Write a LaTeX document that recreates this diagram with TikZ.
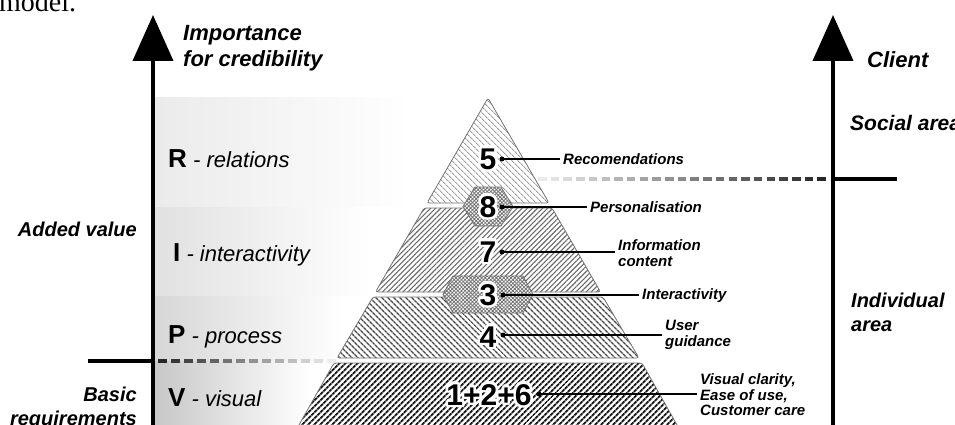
\documentclass[tikz,border=0pt]{standalone}
\usepackage{fontspec}
\setmainfont{Liberation Sans}
\newfontfamily\serifmodel{Liberation Serif}
\usetikzlibrary{arrows.meta,patterns.meta,calc}
\newcommand\halonum[3]{%
  \foreach \a in {0,22.5,...,337.5}{\node[numtxt,text=white] at ([shift={(\a:2.6pt)}]#2) {#3};}
  \node[numtxt] (#1) at (#2) {#3};}
\begin{document}
\begin{tikzpicture}[x=1pt,y=-1pt,
  axis/.style={line width=4pt,-{Triangle[length=46pt,width=40pt]}},
  hline/.style={line width=3.5pt},
  ttl/.style={font=\fontsize{20}{24}\selectfont\bfseries\itshape,inner sep=0pt},
  bigttl/.style={font=\fontsize{22}{26}\selectfont\bfseries\itshape,inner sep=0pt},
  lay/.style={font=\fontsize{22}{24}\selectfont\itshape,inner sep=0pt,anchor=west},
  layer/.style={draw=black!55,line width=0.8pt,rounded corners=2.5pt,preaction={fill=white}},
  hex/.style={draw=black!55,line width=0.8pt,preaction={fill=white},pattern={Hatch[angle=45,distance=2.6pt,line width=0.8pt]},pattern color=black!55},
  numtxt/.style={font=\fontsize{30}{30}\selectfont\bfseries,inner sep=0pt},
  lab/.style={font=\fontsize{15}{15.5}\selectfont\bfseries\itshape,inner sep=3pt,anchor=west,align=left},
  conn/.style={line width=1.3pt},
  dot/.style={circle,fill=black,inner sep=0pt,minimum size=5pt}
]
\useasboundingbox (0,0) rectangle (955,425);
% cropped caption text
\node[anchor=base west,inner sep=0pt,font=\serifmodel\fontsize{28}{28}\selectfont] (model) at (-1,12) {model.};
% background bands
\shade[left color=black!8,right color=white] (153,98) rectangle (410,206);
\shade[left color=black!12,right color=white] (153,207) rectangle (370,295);
\shade[left color=black!16,right color=white] (153,296) rectangle (345,360);
\shade[left color=black!22,right color=white] (153,361) rectangle (310,425);
% fading dashed lines
\coordinate (Ldash) at (158,361);
\foreach \i in {0,...,13}{\pgfmathtruncatemacro\c{85-\i*6}\draw[hline,black!\c] ($(Ldash)+(\i*13,0)$) -- ++(8.5,0);}
\coordinate (Rdash) at (538,179);
\foreach \i in {0,...,22}{\pgfmathtruncatemacro\c{8+\i*3.5}\draw[hline,black!\c] ($(Rdash)+(\i*12.7,0)$) -- ++(8.5,0);}
% pyramid layers
\path[layer,pattern={Lines[angle=-45,distance=4pt,line width=0.9pt]},pattern color=black!38]
  (488,98) -- (549,203) -- (427,203) -- cycle;
\path[layer,pattern={Lines[angle=45,distance=3.6pt,line width=1.1pt]},pattern color=black!58]
  (424,208) -- (552,208) -- (600.5,292) -- (375.5,292) -- cycle;
\path[layer,pattern={Lines[angle=-45,distance=4pt,line width=1.4pt]},pattern color=black!72]
  (373,297) -- (603,297) -- (639,358) -- (337,358) -- cycle;
\path[layer,pattern={Lines[angle=45,distance=4pt,line width=2pt]},pattern color=black!90]
  (334,363) -- (642,363) -- (681,432) -- (295,432) -- cycle;
% hexagons
\path[hex] (475,187) -- (501,187) -- (513,206.5) -- (501,226) -- (475,226) -- (463,206.5) -- cycle;
\path[hex] (453,276) -- (523,276) -- (533,294.5) -- (523,313) -- (453,313) -- (443,294.5) -- cycle;
% connectors and labels
\node[lab] (lab5) at (560,159) {Recomendations};
\node[lab] (lab8) at (587,207) {Personalisation};
\node[lab] (lab7) at (615,253) {Information\\content};
\node[lab] (lab3) at (639,296) {Interactivity};
\node[lab] (lab4) at (662,335) {User\\guidance};
\node[lab] (lab126) at (697,395) {Visual clarity,\\Ease of use,\\Customer care};
\node[dot] (d5) at (502,159) {};
\node[dot] (d8) at (502,207) {};
\node[dot] (d7) at (502,252) {};
\node[dot] (d3) at (503,295) {};
\node[dot] (d4) at (503,335) {};
\node[dot] (d126) at (539,394) {};
\draw[conn] (d5.center) -- (lab5.west);
\draw[conn] (d8.center) -- (lab8.west);
\draw[conn] (d7.center) -- (d7.center -| lab7.west);
\draw[conn] (d3.center) -- (d3.center -| lab3.west);
\draw[conn] (d4.center) -- (d4.center -| lab4.west);
\draw[conn] (d126.center) -- (d126.center -| lab126.west);
% numbers with halo
\halonum{n5}{488,159}{5}
\halonum{n8}{488,207}{8}
\halonum{n7}{488,252}{7}
\halonum{n3}{488,295}{3}
\halonum{n4}{488,337}{4}
\halonum{n126}{489,395}{1+2+6}
% left axis
\coordinate (Lbot) at (153,427);
\coordinate (Ltop) at (153,15);
\draw[axis] (Lbot) -- (Ltop);
\coordinate (Lh1) at (88,361);
\coordinate (Lh2) at (155,361);
\draw[hline] (Lh1) -- (Lh2);
% right axis
\coordinate (Rbot) at (833,427);
\coordinate (Rtop) at (833,15);
\draw[axis] (Rbot) -- (Rtop);
\coordinate (Rh1) at (831,179);
\coordinate (Rh2) at (897,179);
\draw[hline] (Rh1) -- (Rh2);
% titles
\node[bigttl,anchor=west,align=left] (imp) at (183,48) {Importance\\for credibility};
\node[bigttl,anchor=west] (cli) at (867,60) {Client};
\node[bigttl,anchor=west,font=\fontsize{21}{24}\selectfont\bfseries\itshape] (soc) at (850,123) {Social area};
\node[ttl,anchor=west,align=left] (ind) at (851,312) {Individual\\area};
\node[ttl,anchor=east] (add) at (137,229) {Added value};
\node[ttl,anchor=east,align=right] (bas) at (137,408) {Basic\\requirements};
% layer names
\node[lay] (layR) at (168,159) {{\fontsize{26}{26}\selectfont\upshape\bfseries R} - relations};
\node[lay] (layI) at (173,255) {{\fontsize{26}{26}\selectfont\upshape\bfseries I} - interactivity};
\node[lay] (layP) at (168,337) {{\fontsize{26}{26}\selectfont\upshape\bfseries P} - process};
\node[lay] (layV) at (168,398) {{\fontsize{26}{26}\selectfont\upshape\bfseries V} - visual};
\end{tikzpicture}
\end{document}
